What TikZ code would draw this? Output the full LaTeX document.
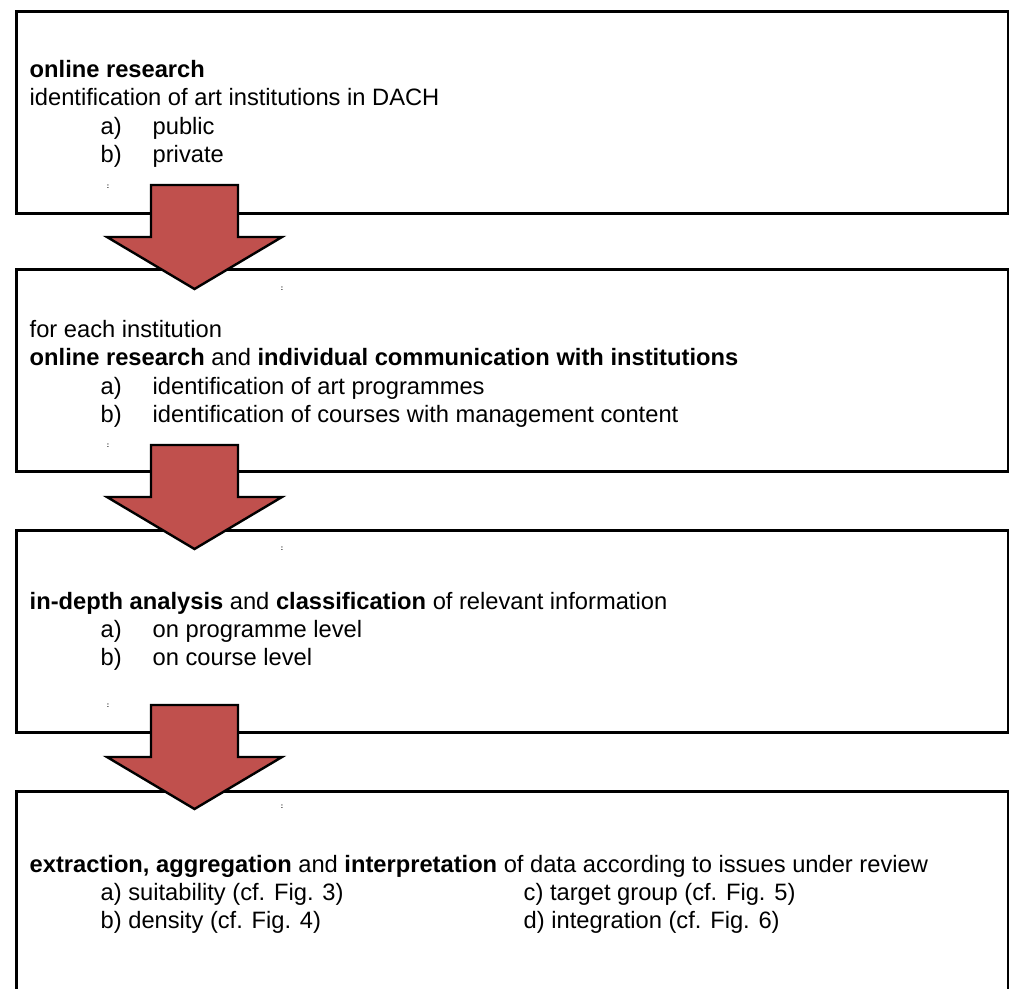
\documentclass[tikz,border=0pt]{standalone}
\usepackage{fontspec}
\setmainfont{Liberation Sans}
\definecolor{arrowred}{HTML}{C0504D}
\begin{document}
\begin{tikzpicture}[x=1pt,y=-1pt,
  stagebox/.style={draw=black, line width=3pt, rectangle, minimum width=991.5pt, minimum height=201.5pt, anchor=north west, inner sep=0pt},
  stagetext/.style={anchor=base west, inner sep=0pt, font=\fontsize{23.7}{28.3}\selectfont},
  blockarrow/.style={fill=arrowred, draw=black, line width=2.4pt, line join=miter},
  tinymark/.style={inner sep=0pt, font=\fontsize{7}{7}\selectfont\bfseries}
]
\useasboundingbox (0,0) rectangle (1009,988);
\clip (0,0) rectangle (1009,988);
\fill[white] (0,0) rectangle (1009,988);

% stage boxes
\node[stagebox] (b1) at (15,10) {};
\node[stagebox] (b2) at (15,268) {};
\node[stagebox] (b3) at (15,529) {};
\node[stagebox, minimum height=240pt] (b4) at (15,790) {};

% texts
\node[stagetext] (t1) at (29.5,77.5) {\parbox[t]{960pt}{\textbf{online research}\\
identification of art institutions in DACH\\
\hspace*{71pt}\makebox[52pt][l]{a)}public\\
\hspace*{71pt}\makebox[52pt][l]{b)}private}};

\node[stagetext] (t2) at (29.5,337.5) {\parbox[t]{960pt}{for each institution\\
\textbf{online research} and \textbf{individual communication with institutions}\\
\hspace*{71pt}\makebox[52pt][l]{a)}identification of art programmes\\
\hspace*{71pt}\makebox[52pt][l]{b)}identification of courses with management content}};

\node[stagetext] (t3) at (29.5,609) {\parbox[t]{960pt}{\textbf{in-depth analysis} and \textbf{classification} of relevant information\\
\hspace*{71pt}\makebox[52pt][l]{a)}on programme level\\
\hspace*{71pt}\makebox[52pt][l]{b)}on course level}};

\node[stagetext] (t4) at (29.5,872) {\parbox[t]{980pt}{\textbf{extraction, aggregation} and \textbf{interpretation} of data according to issues under review\\
\hspace*{71pt}\makebox[423pt][l]{a) suitability (cf. Fig. 3)}c) target group (cf. Fig. 5)\\
\hspace*{71pt}\makebox[423pt][l]{b) density (cf. Fig. 4)}d) integration (cf. Fig. 6)}};

% tiny marks
\node[tinymark] (m1) at (108,187) {:};
\node[tinymark] (m2) at (282,289) {:};
\node[tinymark] (m3) at (108,446) {:};
\node[tinymark] (m4) at (282,549) {:};
\node[tinymark] (m5) at (108,706) {:};
\node[tinymark] (m6) at (282,807) {:};

% block arrows
\draw[blockarrow] (151,185) -- (238,185) -- (238,237) -- (282,237) -- (194.5,289) -- (107,237) -- (151,237) -- cycle;
\draw[blockarrow] (151,445) -- (238,445) -- (238,497) -- (282,497) -- (194.5,549) -- (107,497) -- (151,497) -- cycle;
\draw[blockarrow] (151,705) -- (238,705) -- (238,757) -- (282,757) -- (194.5,809) -- (107,757) -- (151,757) -- cycle;
\end{tikzpicture}
\end{document}
